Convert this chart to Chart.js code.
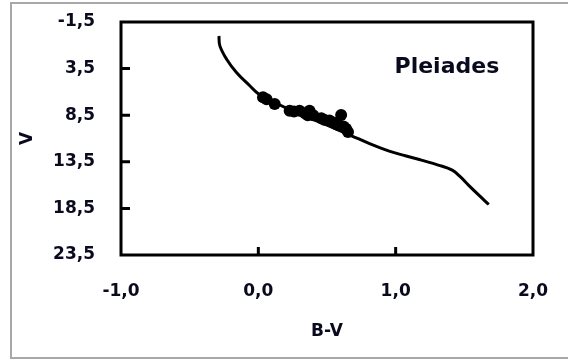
<!DOCTYPE html>
<html><head><meta charset="utf-8">
<script src="https://cdn.jsdelivr.net/npm/chart.js@4"></script>
<style>html,body{margin:0;padding:0;background:#fff;overflow:hidden}#wrap{width:568px;height:360px}</style>
</head><body><div id="wrap"><canvas id="c" width="568" height="360"></canvas></div>
<script>
// Isochrone / main-sequence line (B-V, V)
const lineBV = [-0.287, -0.28, -0.231, -0.159, -0.062, 0.0, 0.10, 0.23, 0.34, 0.44, 0.56, 0.675, 0.81, 0.953, 1.07, 1.194, 1.31, 1.412, 1.47, 1.53, 1.60, 1.678];
const lineV  = [0.0, 1.06, 2.49, 3.91, 5.34, 6.2, 7.0, 7.9, 8.6, 9.2, 9.95, 10.68, 11.55, 12.35, 12.85, 13.35, 13.85, 14.4, 15.1, 16.0, 17.0, 18.08];
// Pleiades stars (B-V, V)
const starBV = [0.034, 0.06, 0.119, 0.228, 0.26, 0.30, 0.34, 0.373, 0.36, 0.40, 0.458, 0.48, 0.518, 0.55, 0.57, 0.59, 0.603, 0.62, 0.639, 0.653];
const starV  = [6.58, 6.8, 7.29, 8.01, 8.1, 8.01, 8.3, 8.01, 8.5, 8.5, 8.82, 9.0, 9.08, 9.3, 9.5, 9.61, 8.47, 9.7, 9.96, 10.3];
const xTicks = [-1, 0, 1, 2];
const yTicks = [-1.5, 3.5, 8.5, 13.5, 18.5, 23.5];
const xTitle = 'B-V';
const yTitle = 'V';
const labelText = 'Pleiades';
const labelPos = [1.373, 3.34];

const FONT = 'DejaVu Sans';
const fmt = v => Number(v).toFixed(1).replace('.', ',');
const noPad = s => { s.paddingTop = 0; s.paddingBottom = 0; s.paddingLeft = 0; s.paddingRight = 0; };

const frame = {
  id: 'frame',
  beforeDraw(chart) {
    const ctx = chart.ctx;
    ctx.save();
    ctx.fillStyle = '#fff';
    ctx.fillRect(0, 0, chart.width, chart.height);
    ctx.strokeStyle = '#a8a8a8';
    ctx.lineWidth = 2;
    ctx.beginPath();
    ctx.moveTo(chart.width + 2, 3);
    ctx.lineTo(11, 3);
    ctx.lineTo(11, 358);
    ctx.lineTo(chart.width + 2, 358);
    ctx.stroke();
    ctx.restore();
  },
  afterDraw(chart) {
    const ctx = chart.ctx, a = chart.chartArea;
    const xs = chart.scales.x, ys = chart.scales.y;
    ctx.save();
    ctx.strokeStyle = '#000';
    ctx.lineWidth = 3;
    ctx.strokeRect(a.left, a.top, a.right - a.left, a.bottom - a.top);
    ctx.beginPath();
    xTicks.slice(1, -1).forEach(v => {
      const p = xs.getPixelForValue(v);
      ctx.moveTo(p, a.bottom); ctx.lineTo(p, a.bottom - 8);
    });
    yTicks.slice(1, -1).forEach(v => {
      const p = ys.getPixelForValue(v);
      ctx.moveTo(a.left, p); ctx.lineTo(a.left + 9, p);
    });
    ctx.stroke();
    ctx.fillStyle = '#0a0a1e';
    ctx.font = 'bold 22px "' + FONT + '"';
    ctx.textAlign = 'center';
    ctx.textBaseline = 'middle';
    ctx.fillText(labelText, xs.getPixelForValue(labelPos[0]), ys.getPixelForValue(labelPos[1]));
    ctx.restore();
  }
};

const tickFont = {family: FONT, size: 17, weight: 'bold'};
new Chart(document.getElementById('c'), {
  type: 'scatter',
  data: {
    datasets: [
      {
        data: lineBV.map((x, i) => ({x, y: lineV[i]})),
        showLine: true, tension: 0.4, borderColor: '#000', borderWidth: 3,
        pointRadius: 0, fill: false
      },
      {
        data: starBV.map((x, i) => ({x, y: starV[i]})),
        showLine: false, pointRadius: 6, pointBackgroundColor: '#000',
        pointBorderColor: '#000', pointBorderWidth: 0
      }
    ]
  },
  options: {
    responsive: false, animation: false, devicePixelRatio: 1,
    layout: {padding: {left: 0, top: 22, right: 35, bottom: 0}},
    plugins: {legend: {display: false}, tooltip: {enabled: false}},
    scales: {
      x: {
        type: 'linear', min: -1, max: 2,
        afterBuildTicks: s => { s.ticks = xTicks.map(v => ({value: v})); },
        afterFit: s => { s.height = 105; noPad(s); },
        ticks: {callback: fmt, font: tickFont, color: '#0a0a1e', padding: 26, maxRotation: 0, autoSkip: false},
        grid: {display: false, drawTicks: false},
        border: {display: false},
        title: {display: true, text: xTitle, font: tickFont, color: '#0a0a1e', padding: {top: 0, bottom: 18}}
      },
      y: {
        type: 'linear', min: -1.5, max: 23.5, reverse: true,
        afterBuildTicks: s => { s.ticks = yTicks.map(v => ({value: v})); },
        afterFit: s => { s.width = 121; noPad(s); },
        ticks: {callback: fmt, font: tickFont, color: '#0a0a1e', padding: 26, autoSkip: false},
        grid: {display: false, drawTicks: false},
        border: {display: false},
        title: {display: true, text: yTitle, font: tickFont, color: '#0a0a1e', padding: {top: 17, bottom: 0}}
      }
    }
  },
  plugins: [frame]
});
</script></body></html>
